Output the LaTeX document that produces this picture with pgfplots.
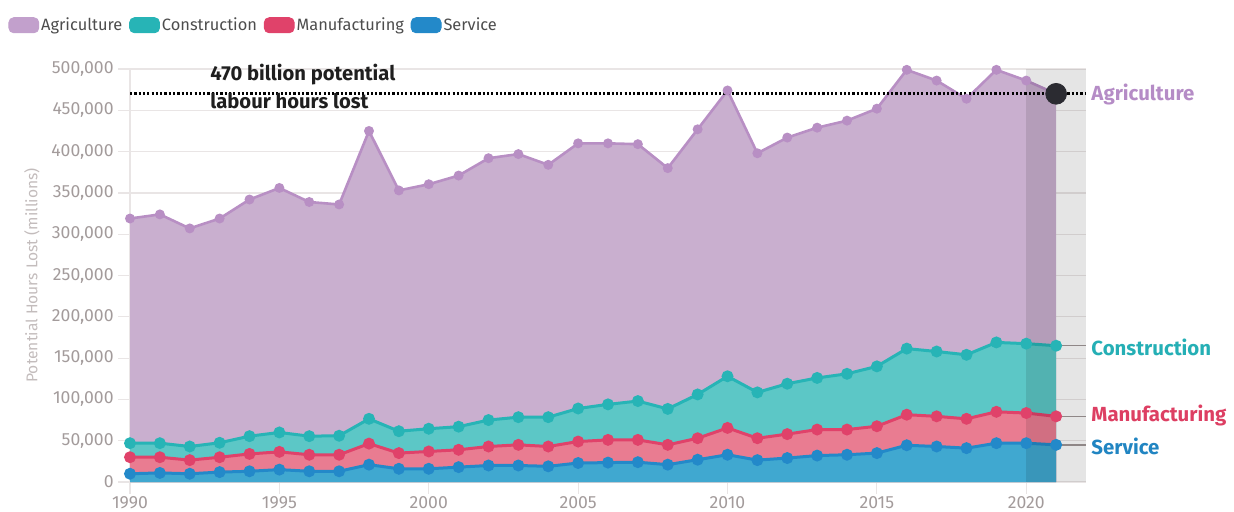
\documentclass[border=0pt]{standalone}
\usepackage{pgfplots}
\pgfplotsset{compat=1.18}
\usepackage{pgfplotstable}
\usepackage{fontspec}
\setmainfont{Fira Sans}

\definecolor{agfill}{HTML}{C9AFCF}
\definecolor{agline}{HTML}{B88FC4}
\definecolor{aglab}{HTML}{B58CC6}
\definecolor{agleg}{HTML}{C2A0CC}
\definecolor{cofill}{HTML}{5CC7C6}
\definecolor{coline}{HTML}{27B4B6}
\definecolor{colab}{HTML}{25AFB5}
\definecolor{mafill}{HTML}{E97C91}
\definecolor{maline}{HTML}{E0426A}
\definecolor{malab}{HTML}{DD3F63}
\definecolor{sefill}{HTML}{40A8D0}
\definecolor{seline}{HTML}{2389C9}
\definecolor{selab}{HTML}{2185C2}
\definecolor{gridc}{HTML}{E9E5E5}
\definecolor{tickc}{HTML}{A39B9B}
\definecolor{ylabc}{HTML}{C3BCBC}
\definecolor{legtext}{HTML}{4D4D4D}
\definecolor{connc}{HTML}{8F8787}
\definecolor{dotc}{HTML}{2B2B31}

\pgfplotstableread{
year agr con man ser
1990 319000 47000 30000 10000
1991 324000 47000 30000 11000
1992 307000 43000 26500 10000
1993 319000 47500 30000 12000
1994 342000 55500 34000 13000
1995 356000 60000 36500 15000
1996 339000 55500 33000 13000
1997 336000 56000 33000 13000
1998 425000 76500 46500 21000
1999 353000 61500 35000 16000
2000 360500 64500 37000 16000
2001 371000 67000 39000 18000
2002 392000 75000 43000 20000
2003 397000 78500 45000 20000
2004 384000 78500 43000 19000
2005 410000 89000 49000 23000
2006 410000 94000 51000 23500
2007 409000 98000 51000 24000
2008 380000 88500 45000 21000
2009 427000 106000 53000 27000
2010 474000 128000 65500 33000
2011 398000 108500 53000 26500
2012 417000 119000 58000 29000
2013 429000 126000 63500 32000
2014 437500 131000 63500 33000
2015 452000 140000 67500 35000
2016 499000 161500 81500 44500
2017 486000 158000 79500 43000
2018 464000 154000 76500 41000
2019 499000 169000 85000 47000
2020 486000 167500 83500 47000
2021 470000 165000 79500 45000
}\datatable

\pgfplotsset{swatch/.style={legend image code/.code={\fill[#1, rounded corners=2.5pt] (0pt,-3.8pt) rectangle (15pt,3.8pt);}}}

\begin{document}
\begin{tikzpicture}
\begin{axis}[
  at={(0,0)}, anchor=south west,
  scale only axis, width=478pt, height=206.5pt,
  xmin=1990, xmax=2022, ymin=0, ymax=500000,
  clip=false,
  /pgf/number format/assume math mode=true,
  axis x line=bottom, axis y line=left,
  axis line style={-, draw=gridc, line width=0.6pt},
  xtick={1990,1995,...,2020},
  ytick={0,50000,...,500000},
  scaled x ticks=false, scaled y ticks=false,
  ymajorgrids, grid style={draw=gridc, line width=0.6pt},
  tick style={draw=gridc, line width=0.6pt},
  major tick length=6pt, tick align=outside,
  xticklabel style={/pgf/number format/fixed, /pgf/number format/1000 sep={}, text=tickc, font=\fontsize{8.8}{10.5}\selectfont, inner sep=0pt, yshift=-1.2pt},
  yticklabel style={/pgf/number format/fixed, /pgf/number format/1000 sep={,}, text=tickc, font=\fontsize{8.8}{10.5}\selectfont, inner sep=1pt, xshift=-1pt},
  ylabel={Potential Hours Lost (millions)},
  ylabel style={at={(axis description cs:-0.1025,0.5)}, anchor=center, text=ylabc, font=\fontsize{7.8}{9}\selectfont},
  legend columns=-1,
  legend style={at={(axis description cs:-0.1276,1.106)}, anchor=west, draw=none, fill=none, inner sep=0pt,
    font=\fontsize{8.2}{10}\selectfont, text=legtext,
    nodes={inner sep=1pt},
    /tikz/every even column/.append style={column sep=2.4pt}},
]
% areas and lines (cumulative tops)
\addplot[draw=none, fill=agfill, forget plot] table[x=year,y=agr]{\datatable} \closedcycle;
\addplot[agline, line width=1.3pt, mark=*, mark size=1.8pt, forget plot] table[x=year,y=agr]{\datatable};
\addplot[draw=none, fill=cofill, forget plot] table[x=year,y=con]{\datatable} \closedcycle;
\addplot[coline, line width=1.5pt, mark=*, mark size=2.2pt, forget plot] table[x=year,y=con]{\datatable};
\addplot[draw=none, fill=mafill, forget plot] table[x=year,y=man]{\datatable} \closedcycle;
\addplot[maline, line width=1.5pt, mark=*, mark size=2.2pt, forget plot] table[x=year,y=man]{\datatable};
\addplot[draw=none, fill=sefill, forget plot] table[x=year,y=ser]{\datatable} \closedcycle;
\addplot[seline, line width=1.5pt, mark=*, mark size=2.2pt, forget plot] table[x=year,y=ser]{\datatable};

% shaded band
\fill[black, opacity=0.1] (axis cs:2020,0) rectangle (axis cs:2022,500000);

% reference line and marker
\addplot[black, line width=1.4pt, dash pattern=on 1.1pt off 1.05pt, forget plot] coordinates {(1990,470000) (2022,470000)};
\addplot[only marks, mark=*, mark size=5.2pt, dotc, forget plot] coordinates {(2021,470000)};

% annotation
\node[anchor=base west, font=\bfseries\fontsize{10.1}{12}\selectfont, text=black!88, inner sep=0pt] at (axis cs:1992.68,486500) {470 billion potential};
\node[anchor=base west, font=\bfseries\fontsize{10.1}{12}\selectfont, text=black!88, inner sep=0pt] at (axis cs:1992.68,452500) {labour hours lost};

% connectors and right labels
\draw[connc, line width=0.7pt] (axis cs:2021.2,165000) -- (axis cs:2022,165000);
\draw[connc, line width=0.7pt] (axis cs:2021.2,79500) -- (axis cs:2022,79500);
\draw[connc, line width=0.7pt] (axis cs:2021.2,45000) -- (axis cs:2022,45000);
\node[anchor=west, inner sep=0pt, text=aglab, font=\bfseries\fontsize{10.2}{12}\selectfont] at (axis cs:2022.17,469000) {Agriculture};
\node[anchor=west, inner sep=0pt, text=colab, font=\bfseries\fontsize{10.2}{12}\selectfont] at (axis cs:2022.17,163500) {Construction};
\node[anchor=west, inner sep=0pt, text=malab, font=\bfseries\fontsize{10.2}{12}\selectfont] at (axis cs:2022.17,80000) {Manufacturing};
\node[anchor=west, inner sep=0pt, text=selab, font=\bfseries\fontsize{10.2}{12}\selectfont] at (axis cs:2022.17,43500) {Service};

% legend
\addlegendimage{swatch=agleg}\addlegendentry{Agriculture}
\addlegendimage{swatch=coline}\addlegendentry{Construction}
\addlegendimage{swatch=maline}\addlegendentry{Manufacturing}
\addlegendimage{swatch=seline}\addlegendentry{Service}
\end{axis}
\pgfresetboundingbox
\path[use as bounding box] (-65pt,-14.5pt) rectangle (552pt,241pt);
\end{tikzpicture}
\end{document}
